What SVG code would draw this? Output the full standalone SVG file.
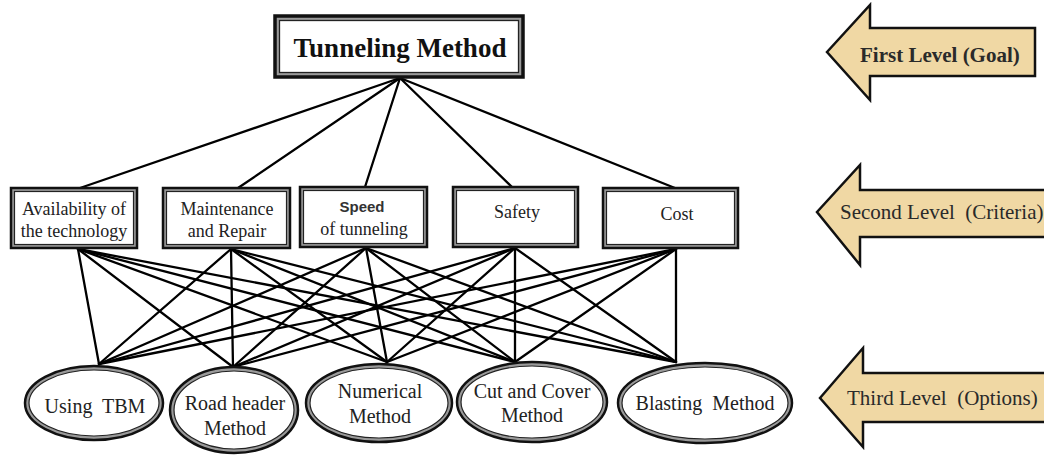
<svg xmlns="http://www.w3.org/2000/svg" width="1044" height="456" viewBox="0 0 1044 456">
<style>
.bg{fill:#ffffff}
.outer{fill:#9a9a9a;stroke:#111;stroke-width:2.5}
.inner{fill:#ffffff;stroke:#222;stroke-width:1.2}
.eo{fill:#9a9a9a;stroke:#111;stroke-width:2.5}
.ei{fill:#ffffff;stroke:#222;stroke-width:1.2}
.ln{stroke:#000;stroke-width:2.3;fill:none;stroke-linecap:round}
.t{font-family:"Liberation Serif","Times New Roman",serif;fill:#222;text-anchor:middle;white-space:pre}
.s{font-size:18px}
.e{font-size:20px}
.arr{fill:#f0d8a4;stroke:#111;stroke-width:2.5;stroke-linejoin:miter}
.at{font-family:"Liberation Serif","Times New Roman",serif;fill:#2a2a2a;font-size:21px;white-space:pre}
</style>
<rect class="bg" x="0" y="0" width="1044" height="456"/>
<g id="connectors">
<line class="ln" x1="400" y1="78" x2="80" y2="188"/>
<line class="ln" x1="400" y1="78" x2="238" y2="188"/>
<line class="ln" x1="400" y1="78" x2="365" y2="187"/>
<line class="ln" x1="400" y1="78" x2="512" y2="187"/>
<line class="ln" x1="400" y1="78" x2="675" y2="188"/>
<line class="ln" x1="78" y1="249" x2="99" y2="364"/>
<line class="ln" x1="78" y1="249" x2="233" y2="367"/>
<line class="ln" x1="78" y1="249" x2="387" y2="362"/>
<line class="ln" x1="78" y1="249" x2="515" y2="362"/>
<line class="ln" x1="78" y1="249" x2="676" y2="362"/>
<line class="ln" x1="231" y1="249" x2="99" y2="364"/>
<line class="ln" x1="231" y1="249" x2="233" y2="367"/>
<line class="ln" x1="231" y1="249" x2="387" y2="362"/>
<line class="ln" x1="231" y1="249" x2="515" y2="362"/>
<line class="ln" x1="231" y1="249" x2="676" y2="362"/>
<line class="ln" x1="366" y1="248" x2="99" y2="364"/>
<line class="ln" x1="366" y1="248" x2="233" y2="367"/>
<line class="ln" x1="366" y1="248" x2="387" y2="362"/>
<line class="ln" x1="366" y1="248" x2="515" y2="362"/>
<line class="ln" x1="366" y1="248" x2="676" y2="362"/>
<line class="ln" x1="515" y1="248" x2="99" y2="364"/>
<line class="ln" x1="515" y1="248" x2="233" y2="367"/>
<line class="ln" x1="515" y1="248" x2="387" y2="362"/>
<line class="ln" x1="515" y1="248" x2="515" y2="362"/>
<line class="ln" x1="515" y1="248" x2="676" y2="362"/>
<line class="ln" x1="676" y1="249" x2="99" y2="364"/>
<line class="ln" x1="676" y1="249" x2="233" y2="367"/>
<line class="ln" x1="676" y1="249" x2="387" y2="362"/>
<line class="ln" x1="676" y1="249" x2="515" y2="362"/>
<line class="ln" x1="676" y1="249" x2="676" y2="362"/>
</g>
<g id="goal">
<rect x="275" y="16" width="248" height="61" fill="#9a9a9a" stroke="#111" stroke-width="3.5"/>
<rect x="279.5" y="20.5" width="239" height="52" fill="#fff" stroke="#222" stroke-width="1.3"/>
<text class="t" x="400" y="57" style="font-size:27px;font-weight:bold;fill:#111">Tunneling Method</text>
</g>
<g id="c-availability">
<rect class="outer" x="11" y="188" width="126" height="60"/>
<rect class="inner" x="14.5" y="191.5" width="119" height="53"/>
<text class="t s" x="74" y="215">Availability of</text>
<text class="t s" x="74" y="237">the technology</text>
</g>
<g id="c-maintenance">
<rect class="outer" x="163" y="188" width="127" height="60"/>
<rect class="inner" x="166.5" y="191.5" width="120" height="53"/>
<text class="t s" x="227" y="215">Maintenance</text>
<text class="t s" x="227" y="237">and Repair</text>
</g>
<g id="c-speed">
<rect class="outer" x="300" y="187" width="127" height="60"/>
<rect class="inner" x="303.5" y="190.5" width="120" height="53"/>
<text class="t" x="362" y="212" style="font-family:'Liberation Sans',Arial,sans-serif;font-size:15px;font-weight:bold;fill:#333">Speed</text>
<text class="t s" x="364" y="235">of tunneling</text>
</g>
<g id="c-safety">
<rect class="outer" x="453" y="187" width="125" height="60"/>
<rect class="inner" x="456.5" y="190.5" width="118" height="53"/>
<text class="t s" x="517" y="218">Safety</text>
</g>
<g id="c-cost">
<rect class="outer" x="603" y="188" width="135" height="60"/>
<rect class="inner" x="606.5" y="191.5" width="128" height="53"/>
<text class="t s" x="677" y="220">Cost</text>
</g>
<g id="o-tbm">
<ellipse class="eo" cx="94" cy="403" rx="69" ry="37"/>
<ellipse class="ei" cx="94" cy="403" rx="65" ry="33"/>
<text class="t e" x="95" y="413">Using  TBM</text>
</g>
<g id="o-roadheader">
<ellipse class="eo" cx="234" cy="410" rx="64" ry="43"/>
<ellipse class="ei" cx="234" cy="410" rx="60" ry="39"/>
<text class="t e" x="235" y="410">Road header</text>
<text class="t e" x="235" y="435">Method</text>
</g>
<g id="o-numerical">
<ellipse class="eo" cx="379" cy="403" rx="73" ry="39"/>
<ellipse class="ei" cx="379" cy="403" rx="69" ry="35"/>
<text class="t e" x="380" y="398">Numerical</text>
<text class="t e" x="380" y="423">Method</text>
</g>
<g id="o-cutcover">
<ellipse class="eo" cx="532" cy="402" rx="75" ry="40"/>
<ellipse class="ei" cx="532" cy="402" rx="71" ry="36"/>
<text class="t e" x="532" y="398">Cut and Cover</text>
<text class="t e" x="532" y="422">Method</text>
</g>
<g id="o-blasting">
<ellipse class="eo" cx="705" cy="403" rx="87" ry="40"/>
<ellipse class="ei" cx="705" cy="403" rx="83" ry="36"/>
<text class="t e" x="705" y="410">Blasting  Method</text>
</g>
<g id="level1">
<polygon class="arr" points="827,52 870,5 870,28 1035,28 1035,76 870,76 870,100"/>
<text class="at" x="860" y="62" style="font-weight:bold">First Level (Goal)</text>
</g>
<g id="level2">
<polygon class="arr" points="817,212 860,165 860,190 1052,190 1052,237 860,237 860,265"/>
<text class="at" x="840" y="219">Second Level  (Criteria)</text>
</g>
<g id="level3">
<polygon class="arr" points="820,398 863,348 863,373 1052,373 1052,422 863,422 863,447"/>
<text class="at" x="847" y="405">Third Level  (Options)</text>
</g>
</svg>
